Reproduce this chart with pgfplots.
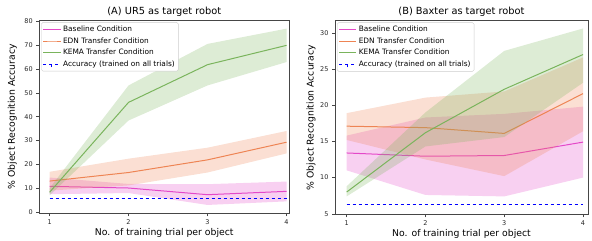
\documentclass[border=0pt]{standalone}
\usepackage{pgfplots}
\pgfplotsset{compat=1.18}
\usepackage{fontspec}
\setmainfont{DejaVu Sans}
\definecolor{cbase}{RGB}{228,72,200}
\definecolor{cedn}{RGB}{238,132,84}
\definecolor{ckema}{RGB}{122,180,92}
\definecolor{spine}{RGB}{70,70,70}
\pgfplotsset{
  myaxis/.style={
    scale only axis, width=250pt, height=193pt,
    axis line style={spine}, tick style={spine, line width=0.5pt}, tick align=outside,
    xtick pos=bottom, ytick pos=left, major tick length=3pt,
    xtick={1,2,3,4},
    ticklabel style={font=\fontsize{6.5}{7}\selectfont, text=black!85},
    /pgf/number format/assume math mode=true,
    label style={font=\fontsize{9.3}{11}\selectfont},
    title style={font=\fontsize{9.8}{11}\selectfont, yshift=-6pt},
    xlabel={No. of training trial per object},
    ylabel={\% Object Recognition Accuracy},
    xlabel style={yshift=3pt},
    legend style={font=\fontsize{7.4}{8}\selectfont, draw=black!20, rounded corners=1.5pt,
      at={(0.008,0.99)}, anchor=north west, row sep=0.4pt, inner sep=1.5pt},
    legend cell align=left,
  },
  bandfill/.style={draw=none, fill=#1, fill opacity=0.26, forget plot},
  accleg/.style={legend image code/.code={
      \draw[blue, dashed, line width=1pt] (0cm,0cm) -- (0.55cm,0cm);
      \draw[blue, line width=0.9pt] (0.275cm,-3pt) -- (0.275cm,3pt);}},
}
\begin{document}
\begin{tikzpicture}
\useasboundingbox (0,0) rectangle (592pt,241pt);
% ---------- (A) ----------
\begin{axis}[myaxis, at={(39.3pt,27.7pt)}, anchor=south west,
  title={(A) UR5 as target robot},
  ylabel style={at={(axis description cs:-0.108,0.5)}, anchor=center},
  xmin=0.87, xmax=4.035, ymin=-0.5, ymax=80.4,
  ytick={0,10,20,30,40,50,60,70,80}]
\addplot[cbase, line width=1pt] coordinates {(1,10.8) (2,10.1) (3,7.3) (4,8.7)};
\addlegendentry{Baseline Condition}
\addplot[bandfill=cbase] coordinates {(1,14.5) (2,11.8) (3,11.7) (4,12.8) (4,4.5) (3,3.0) (2,8.0) (1,7.5)} -- cycle;
\addplot[cedn, line width=1pt] coordinates {(1,13.0) (2,16.6) (3,21.9) (4,29.3)};
\addlegendentry{EDN Transfer Condition}
\addplot[bandfill=cedn] coordinates {(1,16.9) (2,22.4) (3,27.0) (4,34.0) (4,24.6) (3,16.6) (2,11.2) (1,9.0)} -- cycle;
\addplot[ckema, line width=1pt] coordinates {(1,8.3) (2,46.0) (3,61.8) (4,69.9)};
\addlegendentry{KEMA Transfer Condition}
\addplot[bandfill=ckema] coordinates {(1,10.0) (2,53.1) (3,70.5) (4,76.9) (4,62.9) (3,53.1) (2,38.4) (1,7.0)} -- cycle;
\addplot[blue, dashed, line width=0.9pt, accleg] coordinates {(1,5.7) (2,5.7) (3,5.7) (4,5.7)};
\addlegendentry{Accuracy (trained on all trials)}
\end{axis}
% ---------- (B) ----------
\begin{axis}[myaxis, at={(335pt,26.5pt)}, anchor=south west, width=253pt, height=194pt,
  title={(B) Baxter as target robot},
  ylabel style={at={(axis description cs:-0.095,0.5)}, anchor=center},
  xmin=0.852, xmax=4.063, ymin=4.9, ymax=31.7,
  ytick={5,10,15,20,25,30}]
\addplot[cbase, line width=1pt] coordinates {(1,13.4) (2,12.95) (3,13.05) (4,14.9)};
\addlegendentry{Baseline Condition}
\addplot[bandfill=cbase] coordinates {(1,15.8) (2,18.3) (3,18.8) (4,19.8) (4,10.0) (3,7.4) (2,7.6) (1,11.0)} -- cycle;
\addplot[cedn, line width=1pt] coordinates {(1,17.1) (2,16.9) (3,16.1) (4,21.6)};
\addlegendentry{EDN Transfer Condition}
\addplot[bandfill=cedn] coordinates {(1,18.9) (2,21.05) (3,21.9) (4,26.6) (4,16.4) (3,10.2) (2,12.5) (1,15.2)} -- cycle;
\addplot[ckema, line width=1pt] coordinates {(1,8.0) (2,16.2) (3,22.2) (4,27.0)};
\addlegendentry{KEMA Transfer Condition}
\addplot[bandfill=ckema] coordinates {(1,8.8) (2,19.0) (3,27.5) (4,30.6) (4,23.1) (3,15.6) (2,14.3) (1,7.4)} -- cycle;
\addplot[blue, dashed, line width=0.9pt, accleg] coordinates {(1,6.25) (2,6.25) (3,6.25) (4,6.25)};
\addlegendentry{Accuracy (trained on all trials)}
\end{axis}
\end{tikzpicture}
\end{document}
